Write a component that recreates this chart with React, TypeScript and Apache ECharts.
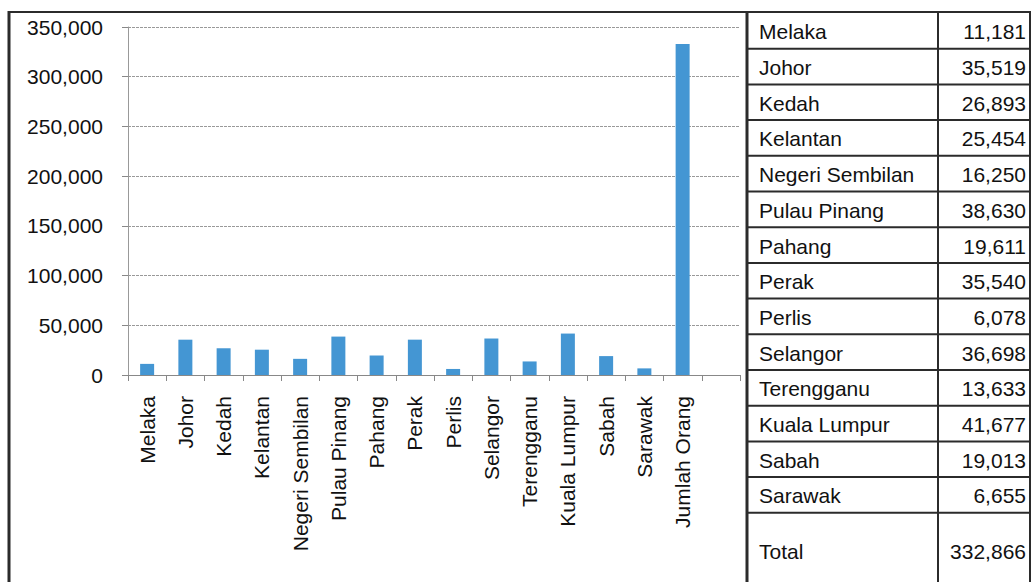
import React, { useEffect, useRef } from "react";
import * as echarts from "echarts";

const stateNames = [
  "Melaka", "Johor", "Kedah", "Kelantan", "Negeri Sembilan", "Pulau Pinang", "Pahang",
  "Perak", "Perlis", "Selangor", "Terengganu", "Kuala Lumpur", "Sabah", "Sarawak",
];
const stateValues = [
  11181, 35519, 26893, 25454, 16250, 38630, 19611,
  35540, 6078, 36698, 13633, 41677, 19013, 6655,
];
const totalBarLabel = "Jumlah Orang";
const totalTableLabel = "Total";
const totalValue = 332866;
const yMin = 0;
const yMax = 350000;
const yInterval = 50000;

const FONT = "'Liberation Sans', Arial, sans-serif";
const fmt = (v: number) => v.toLocaleString("en-US");

export default function App() {
  const ref = useRef<HTMLDivElement>(null);
  useEffect(() => {
    document.body.style.margin = "0";
    const chart = echarts.init(ref.current!, undefined, { renderer: "svg" });

    const categories = [...stateNames, totalBarLabel, ""];
    const barData: (number | null)[] = [...stateValues, totalValue, null];

    // Table layout
    const tLeft = 747, tMid = 938, tRight = 1030, tTop = 13, rowH = 35.7;
    const lineColor = "#2b2b2b";
    const graphics: any[] = [];
    const nRows = stateNames.length;
    const tableBottom = tTop + nRows * rowH;
    // frame lines
    graphics.push({ type: "line", shape: { x1: 9, y1: 11, x2: 9, y2: 582 }, style: { stroke: lineColor, lineWidth: 3 } });
    graphics.push({ type: "line", shape: { x1: 8, y1: 12, x2: 1031, y2: 12 }, style: { stroke: lineColor, lineWidth: 2 } });
    graphics.push({ type: "line", shape: { x1: tLeft, y1: 12, x2: tLeft, y2: 582 }, style: { stroke: lineColor, lineWidth: 3 } });
    graphics.push({ type: "line", shape: { x1: tMid, y1: 12, x2: tMid, y2: 582 }, style: { stroke: lineColor, lineWidth: 2 } });
    graphics.push({ type: "line", shape: { x1: tRight, y1: 12, x2: tRight, y2: 582 }, style: { stroke: lineColor, lineWidth: 2 } });
    for (let i = 1; i <= nRows; i++) {
      const y = tTop + i * rowH;
      graphics.push({ type: "line", shape: { x1: tLeft, y1: y, x2: tRight, y2: y }, style: { stroke: lineColor, lineWidth: 2 } });
    }
    stateNames.forEach((name, i) => {
      const cy = tTop + i * rowH + rowH / 2 + 1;
      graphics.push({ type: "text", x: 759, y: cy, style: { text: name, font: `21px ${FONT}`, fill: "#111", align: "left", verticalAlign: "middle" } });
      graphics.push({ type: "text", x: 1026, y: cy, style: { text: fmt(stateValues[i]), font: `21px ${FONT}`, fill: "#111", align: "right", verticalAlign: "middle" } });
    });
    graphics.push({ type: "text", x: 759, y: tableBottom + 39, style: { text: totalTableLabel, font: `21px ${FONT}`, fill: "#111", align: "left", verticalAlign: "middle" } });
    graphics.push({ type: "text", x: 1026, y: tableBottom + 39, style: { text: fmt(totalValue), font: `21px ${FONT}`, fill: "#111", align: "right", verticalAlign: "middle" } });

    chart.setOption({
      animation: false,
      backgroundColor: "#fff",
      textStyle: { fontFamily: FONT },
      grid: { left: 128, top: 27, width: 612, height: 348 },
      xAxis: {
        type: "category",
        data: categories,
        boundaryGap: true,
        axisLine: { lineStyle: { color: "#888", width: 1 } },
        axisTick: { show: true, length: 6, lineStyle: { color: "#888" } },
        axisLabel: { rotate: 90, fontSize: 21, color: "#111", margin: 21, interval: 0 },
      },
      yAxis: {
        type: "value",
        min: yMin,
        max: yMax,
        interval: yInterval,
        axisLine: { show: true, lineStyle: { color: "#999", width: 1 } },
        axisTick: { show: true, length: 6, lineStyle: { color: "#888" } },
        axisLabel: { fontSize: 21, color: "#111", margin: 25, formatter: (v: number) => fmt(v) },
        splitLine: { show: true, lineStyle: { color: "#999", width: 1, type: [3, 1] } },
      },
      series: [
        {
          type: "bar",
          data: barData,
          barWidth: 14,
          itemStyle: { color: "#4496d3" },
        },
      ],
      graphic: graphics,
    });
    return () => chart.dispose();
  }, []);
  return (
    <div
      ref={ref}
      style={{ position: "absolute", left: 0, top: 0, width: 1032, height: 582, background: "#fff" }}
    />
  );
}
